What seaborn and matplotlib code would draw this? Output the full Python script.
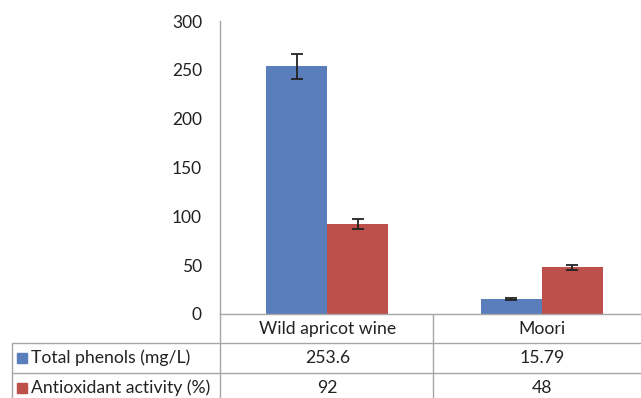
import seaborn as sns
import matplotlib.pyplot as plt
import matplotlib.transforms as mtransforms
from matplotlib.lines import Line2D
from matplotlib.patches import Rectangle
import pandas as pd

# --------------------------------------------------
# data
# --------------------------------------------------
samples = ["Wild apricot wine", "Moori"]
measures = ["Total phenols (mg/L)", "Antioxidant activity (%)"]
phenols = [253.6, 15.79]
antioxidant = [92, 48]
phenols_err = [13, 1]
antioxidant_err = [5, 2.5]
table_labels = [["253.6", "15.79"], ["92", "48"]]
y_ticks = [0, 50, 100, 150, 200, 250, 300]

colors = ["#5A7DBB", "#BE504C"]
grid_col = "#A6A6A6"

df = pd.DataFrame({
    "sample": samples * 2,
    "measure": [measures[0]] * 2 + [measures[1]] * 2,
    "value": phenols + antioxidant,
})

sns.set_style("white")
plt.rcParams["font.family"] = ["Lato", "DejaVu Sans"]

W, H = 641, 398
fig = plt.figure(figsize=(W / 100, H / 100), dpi=100)


def fx(px):
    return px / W


def fy(py):
    return 1 - py / H


# plot area: left at x=220, baseline at y=314, 300 at y=21
ax = fig.add_axes([fx(220), fy(314), fx(649 - 220), fy(21) - fy(314)])
sns.barplot(data=df, x="sample", y="value", hue="measure", order=samples,
            hue_order=measures, palette=colors, width=0.57, saturation=1,
            errorbar=None, legend=False, linewidth=0, ax=ax)

errs = [phenols_err, antioxidant_err]
vals = [phenols, antioxidant]
for cont, e, v in zip(ax.containers, errs, vals):
    xs = [b.get_x() + b.get_width() / 2 for b in cont]
    ax.errorbar(xs, v, yerr=e, fmt="none", ecolor="#222222",
                elinewidth=1.3, capsize=4, capthick=1.3)

ax.set_xlim(-0.5, 1.5)
ax.set_ylim(0, 300)
ax.set_yticks(y_ticks)
ax.tick_params(axis="y", length=0, pad=13, labelsize=12.5, labelcolor="#222222")
ax.set_xticks([])
ax.set_xlabel("")
ax.set_ylabel("")
for s in ["top", "right"]:
    ax.spines[s].set_visible(False)
for s in ["left", "bottom"]:
    ax.spines[s].set_color(grid_col)
    ax.spines[s].set_linewidth(1)

# --------------------------------------------------
# data table under the chart
# --------------------------------------------------
def hline(y, x0, x1):
    fig.add_artist(Line2D([fx(x0), fx(x1)], [fy(y), fy(y)], color=grid_col, lw=1))


def vline(x, y0, y1):
    fig.add_artist(Line2D([fx(x), fx(x)], [fy(y0), fy(y1)], color=grid_col, lw=1))


hline(343, 12, 641)
hline(373, 12, 641)
vline(12, 343, 400)
vline(220, 314, 400)
vline(433, 314, 400)

trans = mtransforms.blended_transform_factory(ax.transData, fig.transFigure)
for i, s in enumerate(samples):
    ax.text(i, fy(329), s, transform=trans, ha="center", va="center",
            fontsize=12.7, color="#222222", clip_on=False)

row_y = [358, 388]
for r, (m, c) in enumerate(zip(measures, colors)):
    fig.add_artist(Rectangle((fx(17), fy(row_y[r] + 5)), fx(10), fy(row_y[r] - 5) - fy(row_y[r] + 5),
                             transform=fig.transFigure, color=c))
    fig.text(fx(31), fy(row_y[r]), m, ha="left", va="center", fontsize=12.7, color="#222222")
    for i in range(len(samples)):
        ax.text(i, fy(row_y[r]), table_labels[r][i], transform=trans, ha="center",
                va="center", fontsize=12.7, color="#222222", clip_on=False)

fig.savefig("out.png", dpi=100)
